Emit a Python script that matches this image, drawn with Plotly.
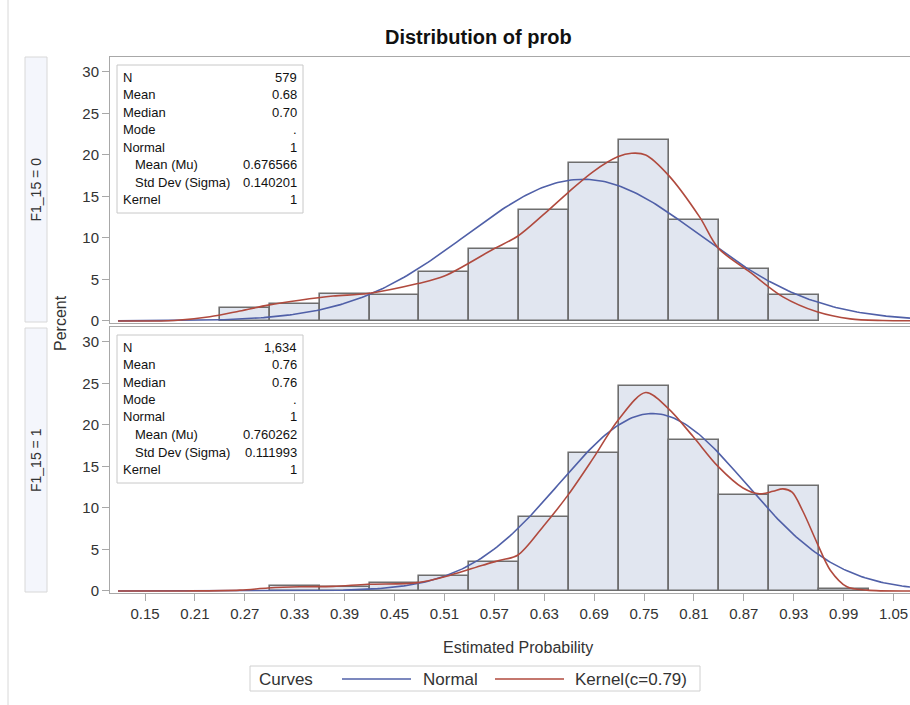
import numpy as np
import plotly.graph_objects as go

# ---------------- data ----------------
tick_vals = [0.15, 0.21, 0.27, 0.33, 0.39, 0.45, 0.51, 0.57, 0.63, 0.69,
             0.75, 0.81, 0.87, 0.93, 0.99, 1.05]
tick_text = ["0.15", "0.21", "0.27", "0.33", "0.39", "0.45", "0.51", "0.57",
             "0.63", "0.69", "0.75", "0.81", "0.87", "0.93", "0.99", "1.05"]
bin_width = 0.06

top_centers = [0.27, 0.33, 0.39, 0.45, 0.51, 0.57, 0.63, 0.69, 0.75, 0.81, 0.87, 0.93]
top_pct = [1.6, 2.05, 3.25, 3.1, 5.9, 8.7, 13.4, 19.0, 21.8, 12.2, 6.3, 3.1]

bot_centers = [0.33, 0.39, 0.45, 0.51, 0.57, 0.63, 0.69, 0.75, 0.81, 0.87, 0.93, 0.99]
bot_pct = [0.6, 0.5, 1.0, 1.85, 3.5, 8.9, 16.6, 24.7, 18.2, 11.6, 12.6, 0.2]

# normal fit parameters (from the inset tables)
top_mu, top_sigma = 0.676566, 0.140201
bot_mu, bot_sigma = 0.760262, 0.111993

# kernel density curves
top_kx = [0.1175, 0.185, 0.228, 0.264, 0.298, 0.336, 0.376, 0.418, 0.478, 0.51,
          0.568, 0.598, 0.629, 0.659, 0.689, 0.719, 0.735, 0.752, 0.779, 0.817,
          0.839, 0.877, 0.917, 0.958, 0.998, 1.037, 1.07]
top_ky = [0.0, 0.05, 0.5, 1.2, 1.9, 2.5, 3.0, 3.3, 4.5, 5.4,
          8.6, 10.2, 12.8, 15.5, 18.0, 19.8, 20.2, 20.0, 17.6, 12.5,
          8.8, 5.9, 2.9, 1.1, 0.25, 0.05, 0.02]

bot_kx = [0.1175, 0.20, 0.264, 0.298, 0.336, 0.376, 0.418, 0.478, 0.517, 0.556,
          0.577, 0.598, 0.629, 0.659, 0.689, 0.719, 0.752, 0.779, 0.809, 0.839,
          0.869, 0.889, 0.905, 0.917, 0.928, 0.941, 0.958, 0.974, 0.994, 1.018, 1.07]
bot_ky = [0.0, 0.0, 0.1, 0.35, 0.5, 0.55, 0.8, 1.0, 1.9, 3.1,
          3.7, 4.3, 7.8, 11.6, 16.0, 20.6, 23.9, 22.0, 18.6, 15.0,
          12.4, 11.7, 12.0, 12.3, 11.9, 9.6, 5.8, 2.5, 0.5, 0.1, 0.0]

top_stats = [("N", "579"), ("Mean", "0.68"), ("Median", "0.70"), ("Mode", "."),
             ("Normal", "1"), ("  Mean (Mu)", "0.676566"),
             ("  Std Dev (Sigma)", "0.140201"), ("Kernel", "1")]
bot_stats = [("N", "1,634"), ("Mean", "0.76"), ("Median", "0.76"), ("Mode", "."),
             ("Normal", "1"), ("  Mean (Mu)", "0.760262"),
             ("  Std Dev (Sigma)", "0.111993"), ("Kernel", "1")]

panel_labels = ["F1_15 = 0", "F1_15 = 1"]

# ---------------- styling ----------------
W, H = 910, 705
ML, MR, MT, MB = 110, 0, 57, 112
PW, PH = W - ML - MR, H - MT - MB
FONT = "Liberation Sans, Arial, sans-serif"
BAR_FILL = "#e1e6f0"
BAR_EDGE = "#6e6e6e"
BLUE = "#5060a8"
RED = "#b04a3e"
FRAME = "#a8a8a8"
TXT = "#222222"


def px(x):
    return (x - ML) / PW


def py(y):
    return (H - MB - y) / PH


x_lo, x_hi = 0.15 - 35 / 831.7, 0.15 + 765 / 831.7
y_rng = [-0.25, 31.8]

fig = go.Figure()

curve_x = np.linspace(0.1175, x_hi, 300)
norm_scale = bin_width * 100 / np.sqrt(2 * np.pi)

for (cent, pct, mu, sg, kx, ky, xa, ya) in [
    (top_centers, top_pct, top_mu, top_sigma, top_kx, top_ky, "x2", "y2"),
    (bot_centers, bot_pct, bot_mu, bot_sigma, bot_kx, bot_ky, "x", "y"),
]:
    fig.add_trace(go.Bar(x=cent, y=pct, width=bin_width, xaxis=xa, yaxis=ya,
                         marker=dict(color=BAR_FILL, line=dict(color=BAR_EDGE, width=1.6)),
                         showlegend=False, hoverinfo="skip"))
    ny = norm_scale / sg * np.exp(-0.5 * ((curve_x - mu) / sg) ** 2)
    fig.add_trace(go.Scatter(x=curve_x, y=ny, mode="lines", xaxis=xa, yaxis=ya,
                             line=dict(color=BLUE, width=1.6), showlegend=False))
    fig.add_trace(go.Scatter(x=kx, y=ky, mode="lines", xaxis=xa, yaxis=ya,
                             line=dict(color=RED, width=1.6, shape="spline", smoothing=0.9),
                             showlegend=False))

top_dom = [py(323), 1.0]
bot_dom = [0.0, py(327)]

axis_common = dict(showline=True, linecolor=FRAME, linewidth=1, mirror=True,
                   showgrid=False, zeroline=False)

fig.update_layout(
    width=W, height=H,
    margin=dict(l=ML, r=MR, t=MT, b=MB),
    paper_bgcolor="white", plot_bgcolor="white",
    bargap=0,
    font=dict(family=FONT, color=TXT),
    xaxis=dict(domain=[0, 1], range=[x_lo, x_hi], anchor="y",
               tickmode="array", tickvals=tick_vals, ticktext=tick_text,
               ticks="outside", ticklen=7, tickcolor=FRAME,
               tickfont=dict(size=15, color="#333333"),
               **axis_common),
    xaxis2=dict(domain=[0, 1], range=[x_lo, x_hi], anchor="y2", matches="x",
                showticklabels=False, ticks="", **axis_common),
    yaxis=dict(domain=bot_dom, range=y_rng, anchor="x",
               tickvals=[0, 5, 10, 15, 20, 25, 30], ticks="outside", ticklen=7,
               tickcolor=FRAME, tickfont=dict(size=15, color="#333333"), **axis_common),
    yaxis2=dict(domain=top_dom, range=y_rng, anchor="x2",
                tickvals=[0, 5, 10, 15, 20, 25, 30], ticks="outside", ticklen=7,
                tickcolor=FRAME, tickfont=dict(size=15, color="#333333"), **axis_common),
)

shapes = []
ann = []

# title
ann.append(dict(text="<b>Distribution of prob</b>", x=px(478), y=py(37), xref="paper", yref="paper",
                showarrow=False, font=dict(size=20, color="#111111"), xanchor="center", yanchor="middle"))

# x axis title
ann.append(dict(text="Estimated Probability", x=px(518), y=py(647), xref="paper", yref="paper",
                showarrow=False, font=dict(size=16, color="#333333"), xanchor="center", yanchor="middle"))

# Percent label
ann.append(dict(text="Percent", x=px(60), y=py(323), xref="paper", yref="paper",
                showarrow=False, textangle=-90, font=dict(size=16, color="#333333"),
                xanchor="center", yanchor="middle"))

# strips
for (lab, y0, y1) in [(panel_labels[0], 57, 322), (panel_labels[1], 328, 592)]:
    shapes.append(dict(type="rect", xref="paper", yref="paper", x0=px(25), x1=px(47),
                       y0=py(y1), y1=py(y0), fillcolor="#f4f6fc", line=dict(color="#d8d8d8", width=1),
                       layer="below"))
    ann.append(dict(text=lab, x=px(36), y=py((y0 + y1) / 2), xref="paper", yref="paper",
                    showarrow=False, textangle=-90, font=dict(size=14, color="#333333"),
                    xanchor="center", yanchor="middle"))

# inset tables
for stats, off in [(top_stats, 0), (bot_stats, 270)]:
    shapes.append(dict(type="rect", xref="paper", yref="paper", x0=px(117), x1=px(303),
                       y0=py(213 + off), y1=py(65 + off), fillcolor="white",
                       line=dict(color="#c8c8c8", width=1)))
    for i, (lab, val) in enumerate(stats):
        yy = 77 + off + i * 17.5
        indent = 12 if lab.startswith("  ") else 0
        ann.append(dict(text=lab.strip(), x=px(121 + indent), y=py(yy), xref="paper", yref="paper",
                        showarrow=False, xanchor="left", yanchor="middle",
                        font=dict(size=13, color="#111111")))
        ann.append(dict(text=val, x=px(299), y=py(yy), xref="paper", yref="paper",
                        showarrow=False, xanchor="right", yanchor="middle",
                        font=dict(size=13, color="#111111")))

# legend (manual)
shapes.append(dict(type="rect", xref="paper", yref="paper", x0=px(250), x1=px(700),
                   y0=py(691), y1=py(666), line=dict(color="#d0d0d0", width=1), fillcolor="white"))
ann.append(dict(text="Curves", x=px(257), y=py(679), xref="paper", yref="paper", showarrow=False,
                xanchor="left", yanchor="middle", font=dict(size=17, color="#333333")))
shapes.append(dict(type="line", xref="paper", yref="paper", x0=px(342), x1=px(411),
                   y0=py(679), y1=py(679), line=dict(color=BLUE, width=1.6)))
ann.append(dict(text="Normal", x=px(421), y=py(679), xref="paper", yref="paper", showarrow=False,
                xanchor="left", yanchor="middle", font=dict(size=17, color="#333333")))
shapes.append(dict(type="line", xref="paper", yref="paper", x0=px(495), x1=px(564),
                   y0=py(679), y1=py(679), line=dict(color=RED, width=1.6)))
ann.append(dict(text="Kernel(c=0.79)", x=px(573), y=py(679), xref="paper", yref="paper",
                showarrow=False, xanchor="left", yanchor="middle",
                font=dict(size=17, color="#333333")))

# outer frame left edge
shapes.append(dict(type="line", xref="paper", yref="paper", x0=px(8), x1=px(8),
                   y0=py(705), y1=py(0), line=dict(color="#d8d8d8", width=1)))

fig.update_layout(shapes=shapes, annotations=ann)

fig.write_html("out.html")
